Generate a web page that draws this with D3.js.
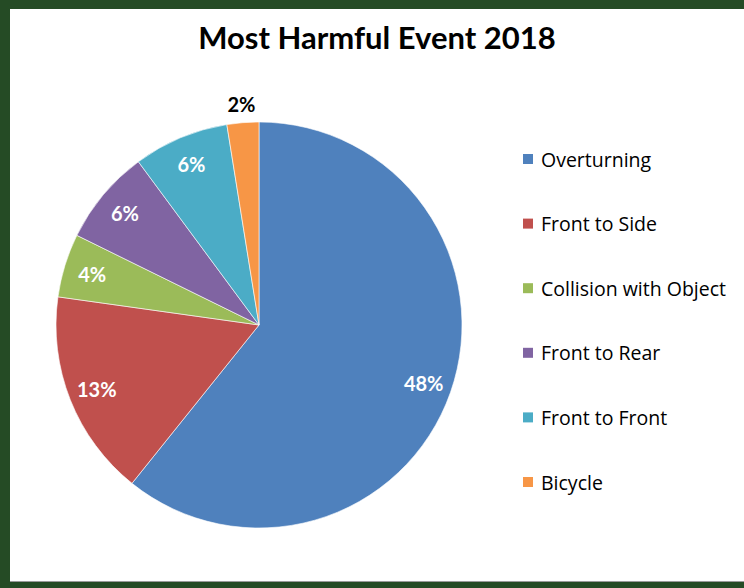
<!DOCTYPE html>
<html>
<head>
<meta charset="utf-8">
<script src="https://cdn.jsdelivr.net/npm/d3@7"></script>
<style>
  html, body { margin: 0; padding: 0; background: #fff; }
  svg { display: block; }
  text { font-family: Lato, "Open Sans", sans-serif; }
  .legend text { font-family: "Open Sans", Lato, sans-serif; }
</style>
</head>
<body>
<script>
// Harmful event shares (percent as labelled)
const categories = ["Overturning", "Front to Side", "Collision with Object", "Front to Rear", "Front to Front", "Bicycle"];
const values = [48, 13, 4, 6, 6, 2];
const colors = ["#4F81BD", "#C0504D", "#9BBB59", "#8064A2", "#4BACC6", "#F79646"];
const title = "Most Harmful Event 2018";

const W = 744, H = 588;
const svg = d3.select("body").append("svg").attr("width", W).attr("height", H);

// Frame: dark green border on top, left and bottom
svg.append("rect").attr("width", W).attr("height", H).attr("fill", "#254B25");
svg.append("rect").attr("x", 10).attr("y", 9).attr("width", W - 10).attr("height", 573).attr("fill", "#fff");
svg.append("rect").attr("x", 10).attr("y", 581).attr("width", W - 10).attr("height", 1).attr("fill", "#9a9a9a");

svg.append("text")
  .attr("x", 377).attr("y", 49)
  .attr("text-anchor", "middle")
  .attr("font-size", 31).attr("font-weight", 700).attr("fill", "#000")
  .text(title);

const cx = 259, cy = 325, r = 203;
const data = categories.map((c, i) => ({ name: c, value: values[i], color: colors[i] }));

const pie = d3.pie().value(d => d.value).sort(null);
const arcs = pie(data);
const arc = d3.arc().innerRadius(0).outerRadius(r);
const labelArc = d3.arc().innerRadius(r * 0.86).outerRadius(r * 0.86);
const outerArc = d3.arc().innerRadius(r * 1.09).outerRadius(r * 1.09);

const g = svg.append("g").attr("transform", `translate(${cx},${cy})`);
g.selectAll("path.slice").data(arcs).join("path")
  .attr("class", "slice")
  .attr("d", arc)
  .attr("fill", d => d.data.color)
  .attr("stroke", "#fff").attr("stroke-width", 0.6);

g.selectAll("text.lbl").data(arcs).join("text")
  .attr("class", "lbl")
  .attr("transform", d => `translate(${(d.data.value < 3 ? outerArc : labelArc).centroid(d)})`)
  .attr("text-anchor", "middle").attr("dominant-baseline", "central")
  .attr("font-size", 20).attr("font-weight", 700)
  .attr("fill", d => d.data.value < 3 ? "#000" : "#fff")
  .text(d => d.data.value + "%");

// Legend
const legendY = d3.scalePoint().domain(categories).range([159, 482]);
const lg = svg.append("g").attr("class", "legend");
const item = lg.selectAll("g").data(data).join("g")
  .attr("transform", d => `translate(523,${legendY(d.name)})`);
item.append("rect").attr("x", 0).attr("y", -5).attr("width", 10).attr("height", 10)
  .attr("fill", d => d.color);
item.append("text").attr("x", 18).attr("y", 0).attr("dominant-baseline", "central")
  .attr("font-size", 19.5).attr("fill", "#000")
  .text(d => d.name);
</script>
</body>
</html>
